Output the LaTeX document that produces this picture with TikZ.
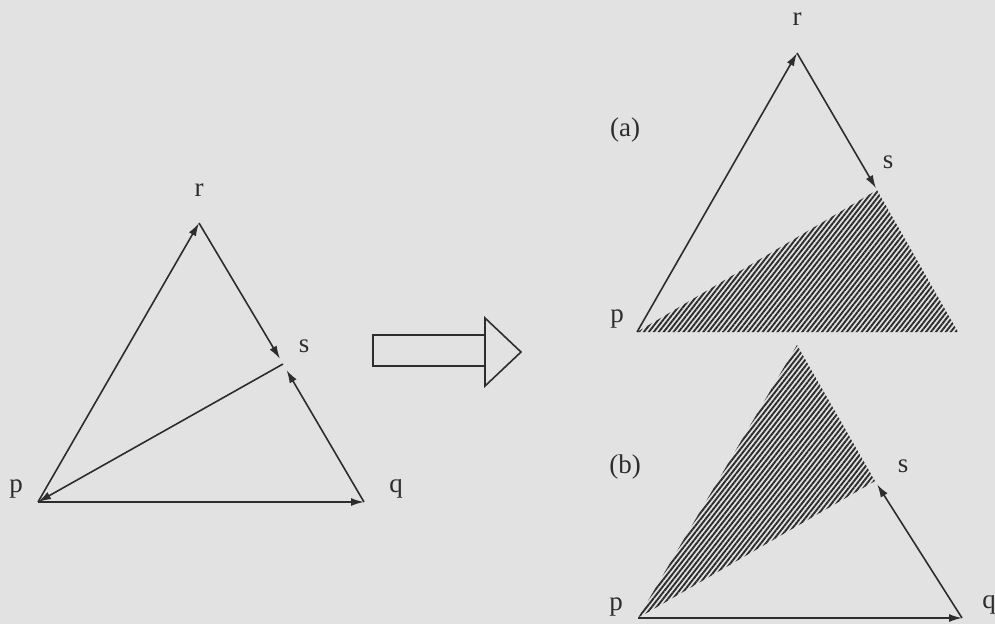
\documentclass[tikz,border=0pt]{standalone}
\usepackage{fontspec}
\setmainfont{Liberation Serif}
\usetikzlibrary{arrows.meta,patterns.meta}
\definecolor{bg}{RGB}{226,226,226}
\definecolor{ink}{RGB}{45,45,45}
\begin{document}
\begin{tikzpicture}[x=1pt,y=-1pt,
  edge/.style={draw=ink, line width=1.6pt},
  arr/.style={edge,-{Latex[length=13pt,width=8pt]}},
  lbl/.style={font=\fontsize{27}{30}\selectfont, text=ink, inner sep=0pt},
  hatch/.style={pattern={Lines[angle=52,distance=3.9pt,line width=1.9pt]}, pattern color=ink}]
\fill[bg] (0,0) rectangle (995,624);
\useasboundingbox (0,0) rectangle (995,624);

% left triangle
\coordinate (pL) at (38,502);
\coordinate (qL) at (364,502);
\coordinate (rL) at (199,223);
\coordinate (sL) at (283,364);
\draw[arr] (pL) -- (rL);
\draw[arr,shorten >=6pt] (rL) -- (sL);
\draw[arr] (sL) -- (pL);
\draw[arr,shorten >=7pt] (qL) -- (sL);
\draw[arr] (pL) -- (qL);
\node[lbl] (lr) at (199,190) {r};
\node[lbl] (ls) at (304,346) {s};
\node[lbl] (lp) at (16,489) {p};
\node[lbl] (lq) at (396,489) {q};

% block arrow
\draw[edge] (373,335) rectangle (485,366);
\draw[edge,line join=miter] (485,318) -- (521,352) -- (485,386) -- cycle;

% (a)
\coordinate (pA) at (637,332);
\coordinate (rA) at (797,53);
\coordinate (sA) at (877,190);
\coordinate (qA) at (958,332);
\fill[hatch] (pA) -- (sA) -- (qA) -- cycle;
\draw[arr] (pA) -- (rA);
\draw[arr,shorten >=2pt] (rA) -- (sA);
\node[lbl] (ar) at (797,19) {r};
\node[lbl] (as) at (888,162) {s};
\node[lbl] (ap) at (617,319) {p};
\node[lbl] (aa) at (625,130) {(a)};

% (b)
\coordinate (pB) at (638,618);
\coordinate (rB) at (797,345);
\coordinate (sB) at (875,481);
\coordinate (qB) at (962,618);
\fill[hatch] (pB) -- (rB) -- (sB) -- cycle;
\draw[arr] (pB) -- (qB);
\draw[arr,shorten >=4pt] (qB) -- (sB);
\node[lbl] (bs) at (903,466) {s};
\node[lbl] (bp) at (616,607) {p};
\node[lbl] (bq) at (989,605) {q};
\node[lbl] (bb) at (625,467) {(b)};
\end{tikzpicture}
\end{document}
